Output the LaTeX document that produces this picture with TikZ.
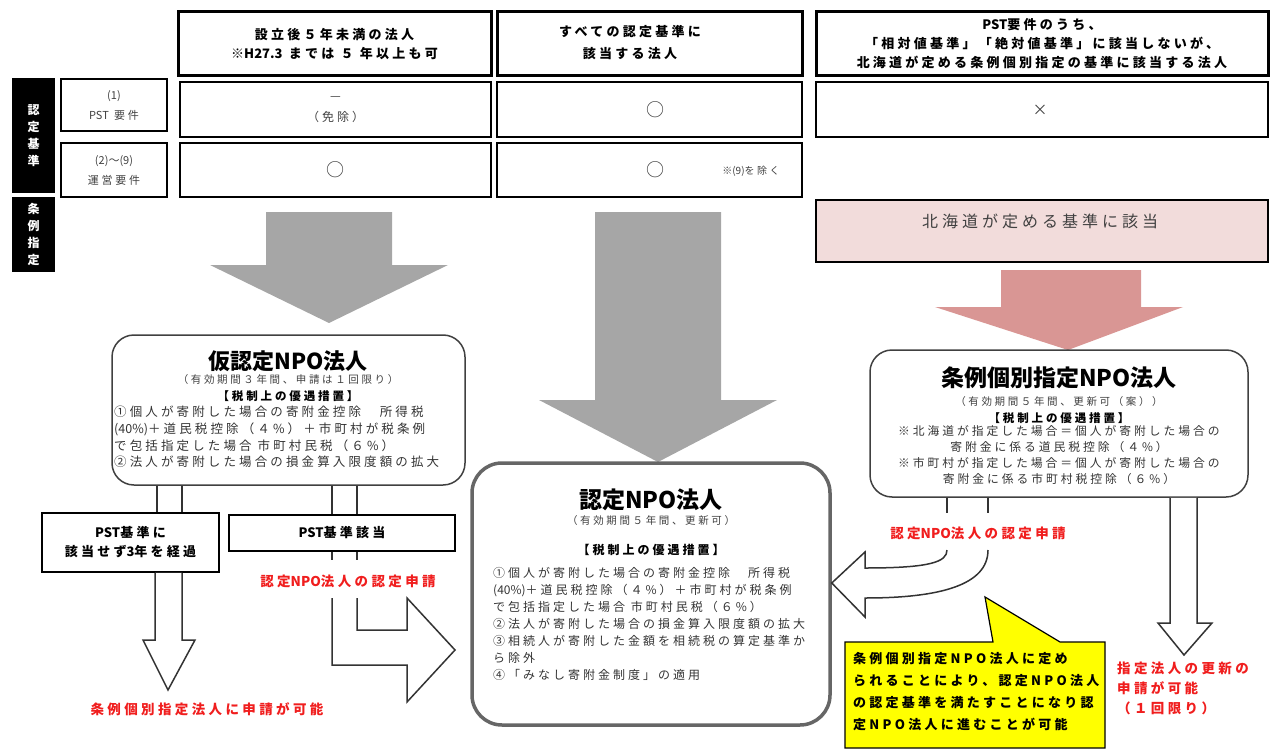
\documentclass[tikz,border=0pt]{standalone}
\usepackage{fontspec}
\setmainfont{Noto Sans CJK JP}
\newfontfamily\jp[LetterSpace=25]{Noto Sans CJK JP}
\newfontfamily\jpn{Noto Sans CJK JP}
\usetikzlibrary{calc}
\definecolor{arrgray}{HTML}{A6A6A6}
\definecolor{pinkbox}{HTML}{F2DCDB}
\definecolor{pinkarr}{HTML}{D99694}
\definecolor{redtxt}{HTML}{F01E1E}
\definecolor{callfill}{HTML}{FFFF00}
\definecolor{txtgray}{HTML}{404040}
\newcommand\bx[7][]{\node[#1,minimum width={(#5-#3)*1pt},minimum height={(#6-#4)*1pt}] (#2) at ({(#3+#5)/2},{(#4+#6)/2}) {#7};}
\newcommand\lat[1]{{\jpn #1}}
\begin{document}
\begin{tikzpicture}[x=1pt,y=-1pt,
  hdr/.style={draw=black,line width=3pt,inner sep=0pt,align=center,font=\jp\bfseries\fontsize{13}{19}\selectfont},
  cell/.style={draw=black,line width=1.8pt,inner sep=0pt,align=center,text=txtgray,font=\jp\fontsize{12}{21}\selectfont},
  lbl/.style={draw=black,line width=1.5pt,inner sep=0pt,align=center,text=txtgray,font=\jp\fontsize{11}{20}\selectfont},
  bar/.style={fill=black,inner sep=0pt,text=white,align=center,font=\bfseries\fontsize{12}{17}\selectfont},
  rbox/.style={draw=black!75,line width=1.5pt,rounded corners=22pt,inner sep=0pt},
  ttl/.style={inner sep=0pt,font=\bfseries\fontsize{22}{26}\selectfont},
  subt/.style={inner sep=0pt,text=txtgray,font=\jp\fontsize{10.5}{14}\selectfont},
  kwd/.style={inner sep=0pt,font=\jp\bfseries\fontsize{11.5}{14}\selectfont},
  bodytxt/.style={inner sep=0pt,align=left,text=black!80,font=\jp\fontsize{12.5}{16.7}\selectfont},
  redt/.style={inner sep=0pt,text=redtxt,font=\jp\bfseries\fontsize{13.5}{20}\selectfont},
  sbox/.style={draw=black,line width=1.5pt,inner sep=0pt,fill=white,align=center,font=\jp\bfseries\fontsize{13}{19}\selectfont},
  hollow/.style={draw=black!80,line width=1.5pt,fill=white},
  pipe/.style={draw=black!80,line width=1.5pt},
  circ/.style={inner sep=0pt,text=txtgray,font=\fontsize{18}{18}\selectfont}
]
\useasboundingbox (0,0) rectangle (1276,754);

% header row
\bx[hdr]{h1}{178}{12}{491}{76}{設立後５年未満の法人\\※\lat{H27.3} までは ５ 年以上も可}
\bx[hdr]{h2}{497}{12}{802}{76}{}
\node[inner sep=0pt,align=center,font=\jp\bfseries\fontsize{13}{22}\selectfont] (h2t) at (630,43) {すべての認定基準に\\該当する法人};
\bx[hdr]{h3}{816}{12}{1268}{76}{\lat{PST}要件のうち、\\「相対値基準」「絶対値基準」に該当しないが、\\北海道が定める条例個別指定の基準に該当する法人}

% side bars
\bx[bar]{b1}{12}{78}{55}{193}{認\\定\\基\\準}
\bx[bar]{b2}{12}{197}{55}{272}{条\\例\\指\\定}

% row labels
\bx[lbl]{l1}{61}{79}{167}{131}{\lat{(1)}\\\lat{PST} 要件}
\bx[lbl]{l2}{61}{143}{167}{197}{\lat{(2)～(9)}\\運営要件}

% cells
\bx[cell]{c11}{180}{82}{491}{137}{—\\（免除）}
\bx[cell]{c12}{497}{82}{802}{137}{}
\node[circ] (c12o) at (655,110) {○};
\bx[cell]{c13}{816}{82}{1268}{137}{}
\node[circ,font=\fontsize{15}{15}\selectfont] (c13x) at (1040,110) {×};
\bx[cell]{c21}{180}{143}{491}{197}{}
\node[circ] (c21o) at (335,170) {○};
\bx[cell]{c22}{497}{143}{802}{197}{}
\node[circ] (c22o) at (655,170) {○};
\node[inner sep=0pt,text=txtgray,font=\jp\fontsize{10}{10}\selectfont] (c22n) at (751,171) {※\lat{(9)}を除く};

% pink criteria box
\bx[draw=black,line width=1.5pt,fill=pinkbox,inner sep=0pt]{pk}{816}{200}{1268}{262}{}
\node[inner sep=0pt,text=txtgray,font=\jp\fontsize{16}{16}\selectfont] (pkt) at (1040,221) {北海道が定める基準に該当};

% big block arrows
\fill[arrgray] (266,212) -- (392,212) -- (392,265) -- (448,265) -- (329,323) -- (210,265) -- (266,265) -- cycle;
\fill[arrgray] (595,212) -- (721,212) -- (721,400) -- (777,400) -- (658,462) -- (539,400) -- (595,400) -- cycle;
\fill[pinkarr] (1001,270) -- (1141,270) -- (1141,307) -- (1183,307) -- (1068,350) -- (935,307) -- (1001,307) -- cycle;

% kari box
\bx[rbox]{kari}{112}{335}{465}{485}{}
\node[ttl] (karit) at (288,361) {仮認定NPO法人};
\node[subt] (karis) at (288,380) {（有効期間３年間、申請は１回限り）};
\node[kwd] (karik) at (288,396) {【税制上の優遇措置】};
\node[bodytxt,anchor=north west] (karib) at (114,406) {①個人が寄附した場合の寄附金控除　所得税\\\lat{(40\%)}＋道民税控除（４\%）＋市町村が税条例\\で包括指定した場合 市町村民税（６\%）\\②法人が寄附した場合の損金算入限度額の拡大};

% jorei box
\bx[rbox]{jorei}{870}{350}{1248}{497}{}
\node[ttl,font=\bfseries\fontsize{23}{26}\selectfont] (joreit) at (1059,378) {条例個別指定NPO法人};
\node[subt] (joreis) at (1059,402) {（有効期間５年間、更新可（案））};
\node[kwd] (joreik) at (1059,418) {【税制上の優遇措置】};
\node[bodytxt,align=center,anchor=north,font=\jp\fontsize{11.8}{16}\selectfont] (joreib) at (1059,425) {※北海道が指定した場合＝個人が寄附した場合の\\寄附金に係る道民税控除（４\%）\\※市町村が指定した場合＝個人が寄附した場合の\\寄附金に係る市町村税控除（６\%）};

% nintei box
\bx[rbox,line width=3.5pt,draw=black!60,rounded corners=30pt]{nintei}{472}{463}{830}{725}{}
\node[ttl,font=\bfseries\fontsize{23}{26}\selectfont] (ninteit) at (651,500) {認定NPO法人};
\node[subt] (ninteis) at (651,521) {（有効期間５年間、更新可）};
\node[kwd,font=\jp\bfseries\fontsize{12}{14}\selectfont] (ninteik) at (651,550) {【税制上の優遇措置】};
\node[bodytxt,anchor=north west,font=\jp\fontsize{12}{17}\selectfont] (ninteib) at (493,567) {①個人が寄附した場合の寄附金控除　所得税\\\lat{(40\%)}＋道民税控除（４\%）＋市町村が税条例\\で包括指定した場合 市町村民税（６\%）\\②法人が寄附した場合の損金算入限度額の拡大\\③相続人が寄附した金額を相続税の算定基準か\\ら除外\\④「みなし寄附金制度」の適用};

% pipes from kari box
\draw[pipe] (157,0 |- kari.south) -- (157,513);
\draw[pipe] (182,0 |- kari.south) -- (182,513);
\draw[pipe] (332,0 |- kari.south) -- (332,560);
\draw[pipe] (357,0 |- kari.south) -- (357,560);
\bx[sbox]{p1}{42}{513}{219}{572}{\lat{PST}基準に\\該当せず\lat{3}年を経過}
\bx[sbox]{p2}{229}{515}{455}{551}{\lat{PST}基準該当}

% hollow arrows left
\filldraw[hollow] (155,0 |- p1.south) -- (155,640) -- (143,640) -- (168,690) -- (195,640) -- (182,640) -- (182,0 |- p1.south);
\coordinate (bendtip) at (455,650);
\filldraw[hollow] (332,598) -- (332,665) -- (407,665) -- (407,702) -- (bendtip) -- (407,598) -- (407,630) -- (357,630) -- (357,598);

% hollow arrows right
\draw[pipe] (947,0 |- jorei.south) -- (947,513);
\draw[pipe] (988,0 |- jorei.south) -- (988,513);
\filldraw[hollow] (988,550) .. controls (988,585) and (940,598) .. (865,598) -- (865,617) -- (nintei.east |- 0,583) -- (865,552) -- (865,568) .. controls (930,568) and (947,562) .. (947,550);
\filldraw[hollow] (1170,0 |- jorei.south) -- (1170,623) -- (1158,623) -- (1184,655) -- (1212,623) -- (1197,623) -- (1197,0 |- jorei.south);

% red labels
\node[redt] (r1) at (207,709) {条例個別指定法人に申請が可能};
\node[redt] (r2) at (348,581) {認定\lat{NPO}法人の認定申請};
\node[redt] (r3) at (978,533) {認定\lat{NPO}法人の認定申請};
\node[redt,align=left,anchor=north west] (r4) at (1117,662) {指定法人の更新の\\申請が可能\\（１回限り）};

% callout
\filldraw[fill=callfill,draw=black,line width=1.2pt] (845,642) -- (993,642) -- (985,597) -- (1060,642) -- (1105,642) -- (1105,748) -- (845,748) -- cycle;
\node[inner sep=0pt,align=left,anchor=north west,font=\jp\bfseries\fontsize{13}{22}\selectfont] (callt) at (853,652) {条例個別指定NPO法人に定め\\られることにより、認定NPO法人\\の認定基準を満たすことになり認\\定NPO法人に進むことが可能};
\end{tikzpicture}
\end{document}
